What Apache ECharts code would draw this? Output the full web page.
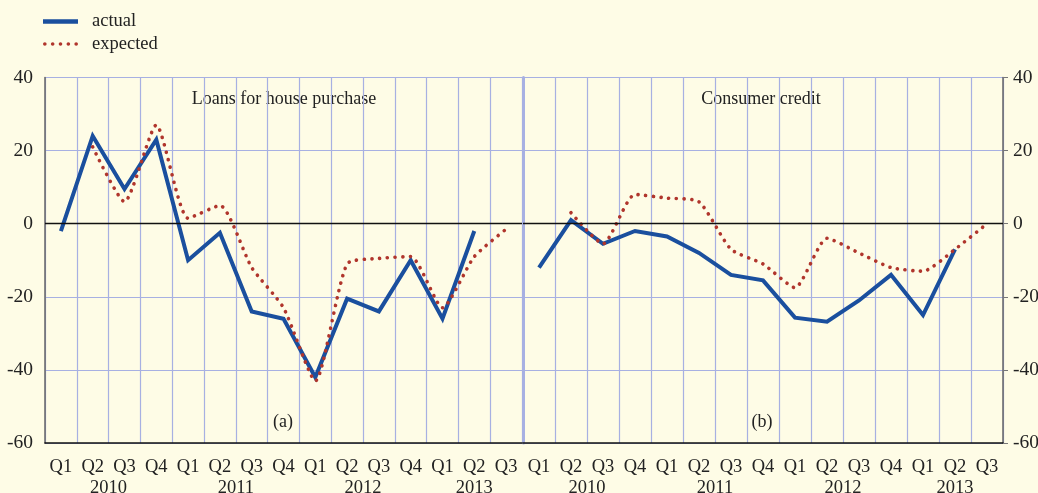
<!DOCTYPE html>
<html>
<head>
<meta charset="utf-8">
<script src="https://cdn.jsdelivr.net/npm/echarts@6/dist/echarts.min.js"></script>
<style>
  html, body { margin: 0; padding: 0; background: #fefce6; }
  #chart { width: 1038px; height: 493px; }
</style>
</head>
<body>
<div id="chart"></div>
<script>
// quarters Q1 2010 .. Q3 2013
var quarters = ["Q1","Q2","Q3","Q4","Q1","Q2","Q3","Q4","Q1","Q2","Q3","Q4","Q1","Q2","Q3"];
// year labels sit on a half-quarter scale (31 slots)
var yearSlots = { 4: "2010", 12: "2011", 20: "2012", 27: "2013" };

// (a) loans for house purchase
var houseActual   = [-2, 24, 9.5, 23, -10, -2.5, -24, -26, -42, -20.5, -24, -10, -26, -2, null];
var houseExpected = [null, 21, 6, 27, 1.5, 5, -12, -23, -43, -11, -9.5, -9, -23, -9, -1.5];
// (b) consumer credit
var creditActual   = [-12, 1, -5.5, -2, -3.5, -8, -14, -15.5, -25.7, -26.8, -21, -14, -25, -7, null];
var creditExpected = [null, 3, -5.5, 8, 7, 6, -7, -11, -17.5, -4, -8, -12, -13, -7, 0];

var yMin = -60, yMax = 40, yStep = 20;

var yearLabels = [];
for (var i = 0; i <= 30; i++) yearLabels.push(yearSlots[i] || "");

var FONT = "Liberation Serif";
var BLUE = "#1a4f9e";
var RED = "#b0352c";
var GRIDC = "#a7b0e2";

// legend glyphs: a thick bar and a row of five dots
var dotIcon = "path://";
for (var d = 0; d < 5; d++) {
  var cx = 1.75 + d * 7.5;
  dotIcon += "M" + (cx - 1.75) + ",1.75 a1.75,1.75 0 1,0 3.5,0 a1.75,1.75 0 1,0 -3.5,0 ";
}

var chart = echarts.init(document.getElementById("chart"));

function quarterAxis(g) {
  return {
    type: "category", gridIndex: g, data: quarters, boundaryGap: true,
    axisLine: { onZero: false, lineStyle: { color: "#111", width: 1.5 } },
    axisTick: { length: 7, lineStyle: { color: "#111", width: 1.5 } },
    axisLabel: { interval: 0, margin: 15, fontFamily: FONT, fontSize: 18.5, color: "#222" },
    splitLine: { show: true, lineStyle: { color: GRIDC, width: 1.2 } }
  };
}
function yearAxis(g) {
  return {
    type: "category", gridIndex: g, data: yearLabels, boundaryGap: false,
    position: "bottom", offset: 21,
    axisLine: { show: false }, axisTick: { show: false }, splitLine: { show: false },
    axisLabel: { interval: 0, margin: 15, fontFamily: FONT, fontSize: 18.5, color: "#222" }
  };
}
function valAxis(g, pos, showLabel, lineColor, lineWidth, split, tick) {
  return {
    type: "value", gridIndex: g, position: pos, min: yMin, max: yMax, interval: yStep,
    axisLine: { show: true, lineStyle: { color: lineColor, width: lineWidth } },
    axisTick: { show: tick, length: 5, lineStyle: { color: "#777" } },
    axisLabel: { show: showLabel, margin: pos === "left" ? 12 : 10, fontFamily: FONT, fontSize: 19.5, color: "#222" },
    splitLine: { show: split, lineStyle: { color: GRIDC, width: 1.2 } }
  };
}
function actualSeries(data, g) {
  return {
    name: "actual", type: "line", xAxisIndex: g * 2, yAxisIndex: g === 0 ? 0 : 1,
    data: data, symbol: "none", connectNulls: false, z: 3,
    lineStyle: { color: BLUE, width: 4, join: "miter" }, itemStyle: { color: BLUE },
    markLine: {
      silent: true, symbol: "none", label: { show: false },
      lineStyle: { color: "#111", width: 1.3, type: "solid" },
      data: [{ yAxis: 0 }]
    }
  };
}
function expectedSeries(data, g) {
  return {
    name: "expected", type: "line", xAxisIndex: g * 2, yAxisIndex: g === 0 ? 0 : 1,
    data: data, symbol: "none", smooth: 0.2, z: 4,
    lineStyle: { color: RED, width: 3.6, type: [0.1, 7.6], cap: "round" },
    itemStyle: { color: RED }
  };
}

function label(text, x, y) {
  return {
    type: "text", x: x, y: y, z: -1,
    style: { text: text, font: "18px " + FONT, fill: "#222", textAlign: "center", textVerticalAlign: "middle" }
  };
}

chart.setOption({
  backgroundColor: "#fefce6",
  textStyle: { fontFamily: FONT },
  animation: false,
  legend: {
    left: 43, top: 12, padding: 0, orient: "vertical", itemWidth: 35, itemHeight: 4.5, itemGap: 3.5,
    textStyle: { fontFamily: FONT, fontSize: 18.5, color: "#222", padding: [0, 0, 0, 9] },
    data: [
      { name: "actual", icon: "rect", itemStyle: { color: BLUE } },
      { name: "expected", icon: dotIcon, itemStyle: { color: RED } }
    ]
  },
  grid: [
    { left: 45, right: 516, top: 77.5, bottom: 50, outerBoundsMode: "none" },
    { left: 523, right: 35, top: 77.5, bottom: 50, outerBoundsMode: "none" }
  ],
  xAxis: [quarterAxis(0), yearAxis(0), quarterAxis(1), yearAxis(1)],
  yAxis: [
    valAxis(0, "left", true, "#666", 1.5, true, false),
    valAxis(1, "right", true, "#666", 1.5, true, true),
    valAxis(1, "left", false, GRIDC, 3, false, false)
  ],
  graphic: [
    label("Loans for house purchase", 284, 99),
    label("Consumer credit", 761, 99),
    label("(a)", 283, 422),
    label("(b)", 762, 422)
  ],
  series: [
    actualSeries(houseActual, 0),
    expectedSeries(houseExpected, 0),
    actualSeries(creditActual, 1),
    expectedSeries(creditExpected, 1)
  ]
});
</script>
</body>
</html>
